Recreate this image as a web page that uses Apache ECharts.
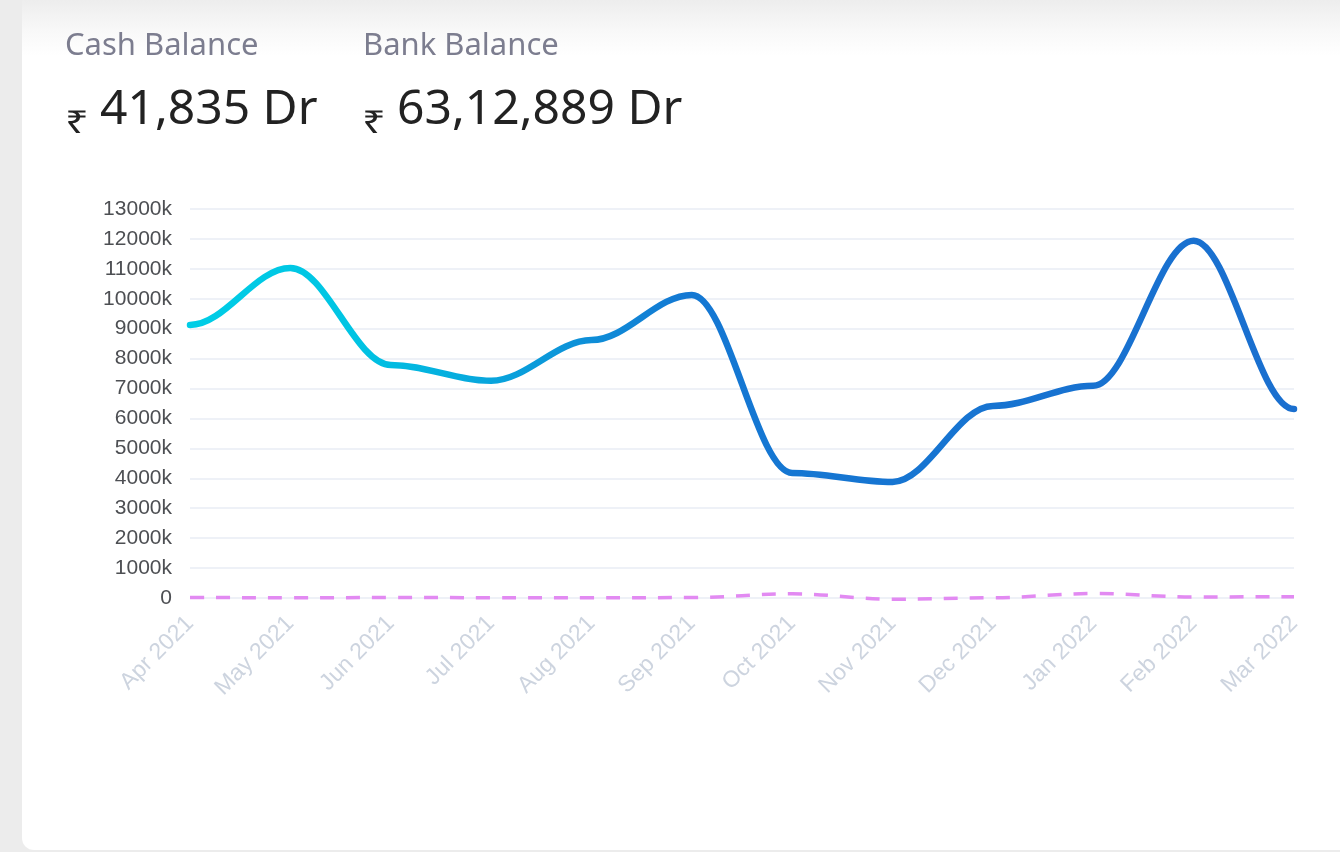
<!DOCTYPE html>
<html>
<head>
<meta charset="utf-8">
<script src="https://cdn.jsdelivr.net/npm/echarts@6/dist/echarts.min.js"></script>
<style>
  html, body { margin: 0; padding: 0; }
  body { width: 1340px; height: 852px; background: #ececec; position: relative; overflow: hidden; }
  .card {
    position: absolute; left: 22px; top: 0; right: 0; bottom: 2px;
    background: linear-gradient(to bottom, #ededed 0px, #f8f8f8 30px, #ffffff 56px);
    border-bottom-left-radius: 12px;
  }
  #chart { position: absolute; left: 0; top: 0; width: 1340px; height: 852px; }
</style>
</head>
<body>
<div class="card"></div>
<div id="chart"></div>
<script>
const months = ['Apr 2021', 'May 2021', 'Jun 2021', 'Jul 2021', 'Aug 2021', 'Sep 2021',
                'Oct 2021', 'Nov 2021', 'Dec 2021', 'Jan 2022', 'Feb 2022', 'Mar 2022'];
const bankBalance = [9124000, 11030000, 7790000, 7260000, 8620000, 10130000,
                     4180000, 3880000, 6420000, 7090000, 11940000, 6312889];
const cashBalance = [20000, 5000, 15000, 12000, 5000, 15000,
                     140000, -40000, 8000, 150000, 35000, 41835];
const headerLabels = ['Cash Balance', 'Bank Balance'];
const headerValues = ['41,835 Dr', '63,12,889 Dr'];

// smooth curve, flat tangent at every point (control arm = 0.35 of the step)
function curveRenderer(lineStyle) {
    return function (params, api) {
        if (params.dataIndex !== 0) return;
        let pts = [];
        for (let i = 0; i < months.length; i++) {
            pts.push(api.coord([api.value(0, i), api.value(1, i)]));
        }
        let d = 'M' + pts[0][0] + ' ' + pts[0][1];
        for (let i = 1; i < pts.length; i++) {
            let p0 = pts[i - 1], p1 = pts[i];
            let cx = (p1[0] - p0[0]) * 0.35;
            d += ' C' + (p0[0] + cx) + ' ' + p0[1] + ' ' + (p1[0] - cx) + ' ' + p1[1] + ' ' + p1[0] + ' ' + p1[1];
        }
        let stroke = lineStyle.stops
            ? new echarts.graphic.LinearGradient(pts[0][0], 0, pts[pts.length - 1][0], 0, lineStyle.stops, true)
            : lineStyle.color;
        return {
            type: 'path',
            shape: { pathData: d },
            style: {
                fill: null,
                stroke: stroke,
                lineWidth: lineStyle.width,
                lineDash: lineStyle.dash || null,
                lineCap: lineStyle.dash ? 'butt' : 'round'
            }
        };
    };
}

let myChart = echarts.init(document.getElementById('chart'));

let option = {
    animation: false,
    graphic: [
        { type: 'text', left: 65, top: 31, style: { text: headerLabels[0], font: '31px "Noto Sans"', fill: '#7c7d8f' } },
        { type: 'text', left: 363, top: 31, style: { text: headerLabels[1], font: '31px "Noto Sans"', fill: '#7c7d8f' } },
        { type: 'text', left: 65, top: 108, scaleX: 1.3, style: { text: '₹', font: '32px "Noto Sans"', fill: '#222' } },
        { type: 'text', left: 362, top: 108, scaleX: 1.3, style: { text: '₹', font: '32px "Noto Sans"', fill: '#222' } },
        { type: 'text', left: 100, top: 86, style: { text: headerValues[0], font: '48px "Noto Sans"', fill: '#222' } },
        { type: 'text', left: 397, top: 86, style: { text: headerValues[1], font: '48px "Noto Sans"', fill: '#222' } }
    ],
    grid: { left: 190, right: 46, top: 209, bottom: 254, containLabel: false },
    xAxis: {
        type: 'category',
        data: months,
        boundaryGap: false,
        axisLine: { show: false },
        axisTick: { show: false },
        axisLabel: { rotate: 45, margin: 22, fontSize: 23, fontFamily: 'Liberation Sans', color: '#cdd4df' }
    },
    yAxis: {
        type: 'value',
        min: 0,
        max: 13000000,
        interval: 1000000,
        axisLine: { show: false },
        axisTick: { show: false },
        axisLabel: {
            margin: 18, fontSize: 21, fontFamily: 'Liberation Sans', color: '#4d4f53',
            formatter: function (v) { return v === 0 ? '0' : (v / 1000) + 'k'; }
        },
        splitLine: { lineStyle: { color: '#eef1f7', width: 2 } }
    },
    series: [
        {
            name: 'Bank Balance',
            type: 'custom',
            data: bankBalance.map(function (v, i) { return [i, v]; }),
            encode: { x: 0, y: 1 },
            renderItem: curveRenderer({
                width: 6.5,
                stops: [
                    { offset: 0, color: '#00cde6' },
                    { offset: 0.15, color: '#00c4e3' },
                    { offset: 0.45, color: '#1478d3' },
                    { offset: 1, color: '#1a6fcf' }
                ]
            }),
            z: 3
        },
        {
            name: 'Cash Balance',
            type: 'custom',
            data: cashBalance.map(function (v, i) { return [i, v]; }),
            encode: { x: 0, y: 1 },
            renderItem: curveRenderer({ width: 3.5, color: '#e28af2', dash: [14, 12] }),
            z: 2
        }
    ]
};
myChart.setOption(option, true);
window.addEventListener('resize', function () {
    myChart.resize();
});
</script>
</body>
</html>
